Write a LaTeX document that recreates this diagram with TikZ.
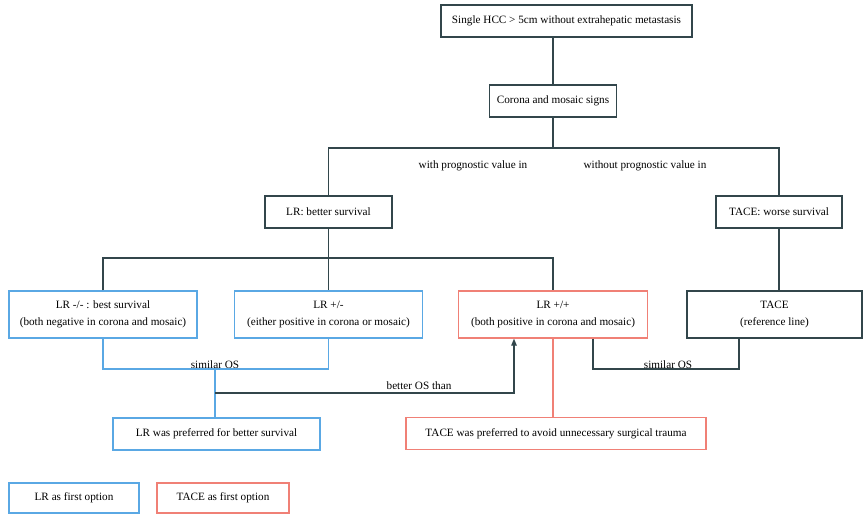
\documentclass[tikz,border=0pt]{standalone}
\usepackage{fontspec}
\setmainfont{Liberation Serif}
\usetikzlibrary{arrows.meta,calc}
\definecolor{dk}{RGB}{50,70,75}
\definecolor{bl}{RGB}{90,168,228}
\definecolor{rd}{RGB}{240,128,118}
\begin{document}
\begin{tikzpicture}[x=1pt,y=-1pt, font=\fontsize{11.2}{17}\selectfont,
 box/.style={draw=dk, line width=1.3pt, align=center, inner sep=0pt, minimum height=32pt},
 bbox/.style={box, draw=bl},
 rbox/.style={box, draw=rd},
 ln/.style={draw=dk, line width=1.2pt},
 bln/.style={draw=bl, line width=1.3pt},
 rln/.style={draw=rd, line width=1.3pt},
 lbl/.style={anchor=base, inner sep=0pt}]
\useasboundingbox[fill=white] (0,0) rectangle (864,515);
% nodes
\node[box, minimum width=251pt] (top) at (566.5,21) {Single HCC > 5cm without extrahepatic metastasis};
\node[box, minimum width=127pt] (cor) at (553,101) {Corona and mosaic signs};
\node[box, minimum width=127pt] (lrb) at (328.5,212) {LR: better survival};
\node[box, minimum width=126pt] (tw) at (779,212) {TACE: worse survival};
\node[bbox, minimum width=188pt, minimum height=47pt] (lrnn) at (103,314.5) {LR -/- : best survival\\(both negative in corona and mosaic)};
\node[bbox, minimum width=188pt, minimum height=47pt] (lrpn) at (328.5,314.5) {LR +/-\\(either positive in corona or mosaic)};
\node[rbox, minimum width=189pt, minimum height=47pt] (lrpp) at (553,314.5) {LR +/+\\(both positive in corona and mosaic)};
\node[box, minimum width=175pt, minimum height=47pt] (tref) at (774.5,314.5) {TACE\\(reference line)};
\node[bbox, minimum width=207pt] (lrpref) at (216.5,434) {LR was preferred for better survival};
\node[rbox, minimum width=300pt] (tpref) at (556,433.5) {TACE was preferred to avoid unnecessary surgical trauma};
\node[bbox, minimum width=130pt, minimum height=30pt] (leg1) at (74,498) {LR as first option};
\node[rbox, minimum width=132pt, minimum height=30pt] (leg2) at (223,498) {TACE as first option};
% labels
\node[lbl] (wl) at (473,168) {with prognostic value in};
\node[lbl] (wol) at (645,168) {without prognostic value in};
\node[lbl] (sl1) at (215,368) {similar OS};
\node[lbl] (sl2) at (668,368) {similar OS};
\node[lbl] (bo) at (419,389) {better OS than};
% coordinates
\coordinate (h1) at (553,148);
\coordinate (h2) at (328.5,258);
\coordinate (s1) at (215,369);
\coordinate (b1) at (215,393);
\coordinate (b2) at (514,393);
\coordinate (s2) at (593,369);
\coordinate (s3) at (739,369);
% connectors
\draw[ln] (cor.north |- top.south) -- (cor.north);
\draw[ln] (cor.south) -- (h1);
\draw[ln] (lrb.north) |- (h1) -| (tw.north);
\draw[ln] (lrb.south) -- (h2);
\draw[ln] (lrnn.north) |- (h2) -| (lrpp.north);
\draw[ln] (h2) -- (lrpn.north);
\draw[ln] (tw.south) -- (tw.south |- tref.north);
\draw[bln] (lrnn.south) |- (s1) -| (lrpn.south);
\draw[bln] (s1) -- (s1 |- lrpref.north);
\draw[ln, -{Triangle[length=7pt,width=5.5pt]}] (b1) -- (b2) -- (b2 |- lrpp.south);
\draw[rln] (lrpp.south) -- (lrpp.south |- tpref.north);
\draw[ln] (s2 |- lrpp.south) -- (s2) -- (s3) -- (s3 |- tref.south);
\end{tikzpicture}
\end{document}
